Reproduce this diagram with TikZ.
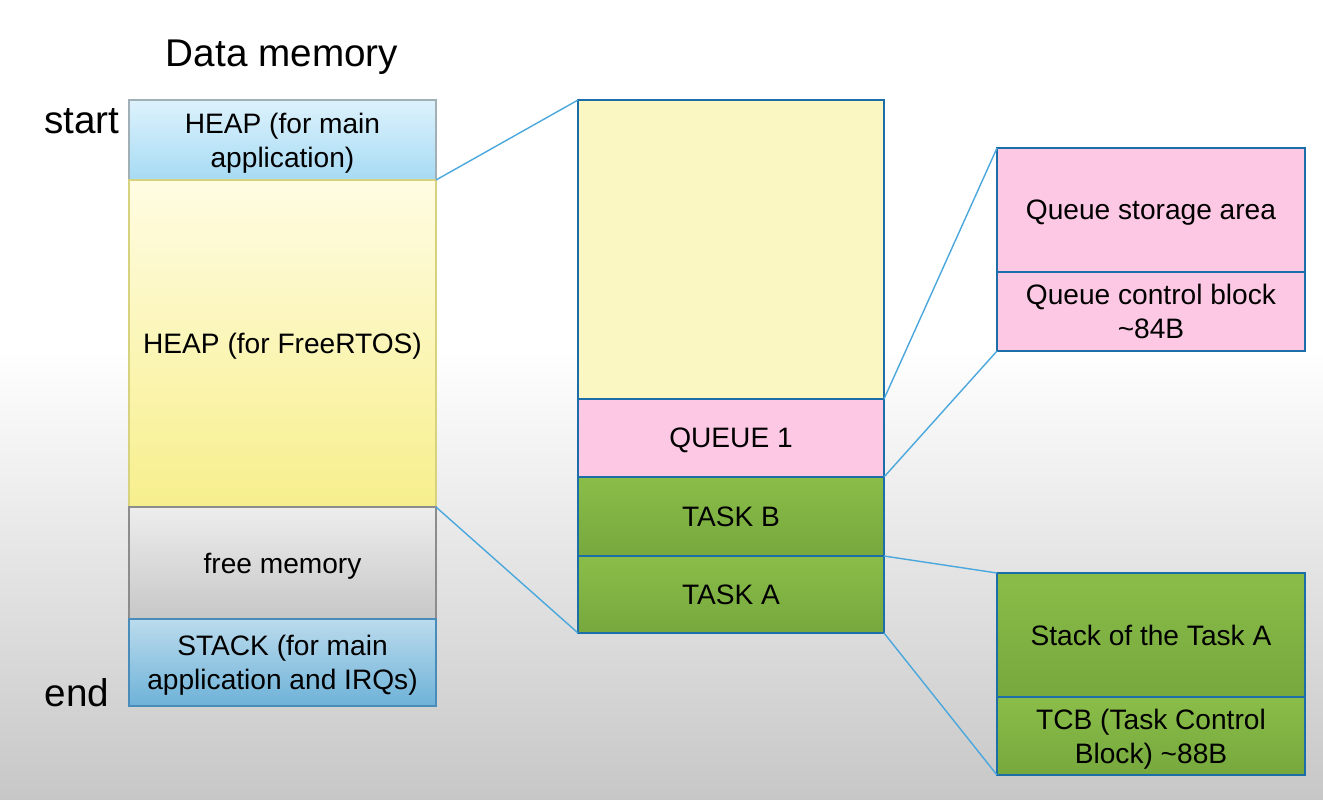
\documentclass[tikz,border=0pt]{standalone}
\usepackage{fontspec}
\setmainfont{Liberation Sans}
\usetikzlibrary{positioning}
\definecolor{edgeblue}{HTML}{1B6EA8}
\definecolor{linkblue}{HTML}{4AA8DC}
\definecolor{poolyellow}{HTML}{FBF7C2}
\definecolor{qpink}{HTML}{FDC8E4}
\definecolor{heapblue1}{HTML}{DDF2FC}
\definecolor{heapblue2}{HTML}{A6DBF4}
\definecolor{stackblue1}{HTML}{BBDBED}
\definecolor{stackblue2}{HTML}{6EB2D8}
\definecolor{rtosyellow1}{HTML}{FFFCE3}
\definecolor{rtosyellow2}{HTML}{F7EF8C}
\definecolor{taskgreen1}{HTML}{8ABD48}
\definecolor{taskgreen2}{HTML}{76A83E}
\begin{document}
\begin{tikzpicture}
    \tikzset{
      block/.style={rectangle,inner sep=0pt,outer sep=0pt,align=center,text depth=0pt,
        font=\fontsize{16}{19.5}\selectfont},
      leftblock/.style={block,draw=#1,line width=0.8pt,minimum width=6.14cm},
      midblock/.style={block,draw=edgeblue,line width=1.6pt,minimum width=6.12cm},
      rightblock/.style={block,draw=edgeblue,line width=1.6pt,minimum width=6.16cm},
      greenfill/.style={top color=taskgreen1,bottom color=taskgreen2},
      link/.style={draw=linkblue,line width=0.8pt},
      label/.style={font=\fontsize{22}{24}\selectfont}
    }

        %BACKGROUND
        \useasboundingbox (0,0) rectangle (26.46,-15.98);
        \fill[white] (0,0) rectangle (26.46,-7.0);
        \shade[top color=white,bottom color=black!22] (0,-7.0) rectangle (26.46,-15.98);

        %DATA MEMORY
        \node[label] (title) at (5.64,-1.14) {Data memory};
        \node[label] (start) at (1.64,-2.42) {start};
        \node[label] (end) at (1.54,-13.86) {end};

        \node[leftblock=cyan!30!black!45,minimum height=1.6cm,anchor=north west,
          top color=heapblue1,bottom color=heapblue2] (heapmain) at (2.58,-2.0)
          {HEAP (for main\\application)};
        \node[leftblock=yellow!70!black!60,minimum height=6.54cm,below=0pt of heapmain,
          top color=rtosyellow1,bottom color=rtosyellow2] (heaprtos) {HEAP (for FreeRTOS)};
        \node[leftblock=black!45,minimum height=2.24cm,below=0pt of heaprtos,
          top color=black!7,bottom color=black!22] (free) {free memory};
        \node[leftblock=edgeblue!80,minimum height=1.74cm,below=0pt of free,
          top color=stackblue1,bottom color=stackblue2] (stack)
          {STACK (for main\\application and IRQs)};

        %FREERTOS HEAP
        \node[midblock,minimum height=5.98cm,anchor=north west,fill=poolyellow] (pool) at (11.56,-2.0) {};
        \node[midblock,minimum height=1.56cm,below=0pt of pool,fill=qpink] (queue) {QUEUE 1};
        \node[midblock,minimum height=1.58cm,below=0pt of queue,greenfill] (taskb) {TASK B};
        \node[midblock,minimum height=1.54cm,below=0pt of taskb,greenfill] (taska) {TASK A};

        %QUEUE
        \node[rightblock,minimum height=2.48cm,anchor=north west,fill=qpink] (qstore) at (19.94,-2.96)
          {Queue storage area};
        \node[rightblock,minimum height=1.58cm,below=0pt of qstore,fill=qpink] (qctrl)
          {Queue control block\\\textasciitilde84B};

        %TASK A
        \node[rightblock,minimum height=2.48cm,anchor=north west,greenfill] (stacka) at (19.94,-11.46)
          {Stack of the Task A};
        \node[rightblock,minimum height=1.56cm,below=0pt of stacka,greenfill] (tcb)
          {TCB (Task Control\\Block) \textasciitilde88B};

        %LINKS
        \draw[link] (heaprtos.north east) -- (pool.north west);
        \draw[link] (heaprtos.south east) -- (taska.south west);
        \draw[link] (queue.north east) -- (qstore.north west);
        \draw[link] (queue.south east) -- (qctrl.south west);
        \draw[link] (taska.north east) -- (stacka.north west);
        \draw[link] (taska.south east) -- (tcb.south west);
    \end{tikzpicture}
\end{document}
